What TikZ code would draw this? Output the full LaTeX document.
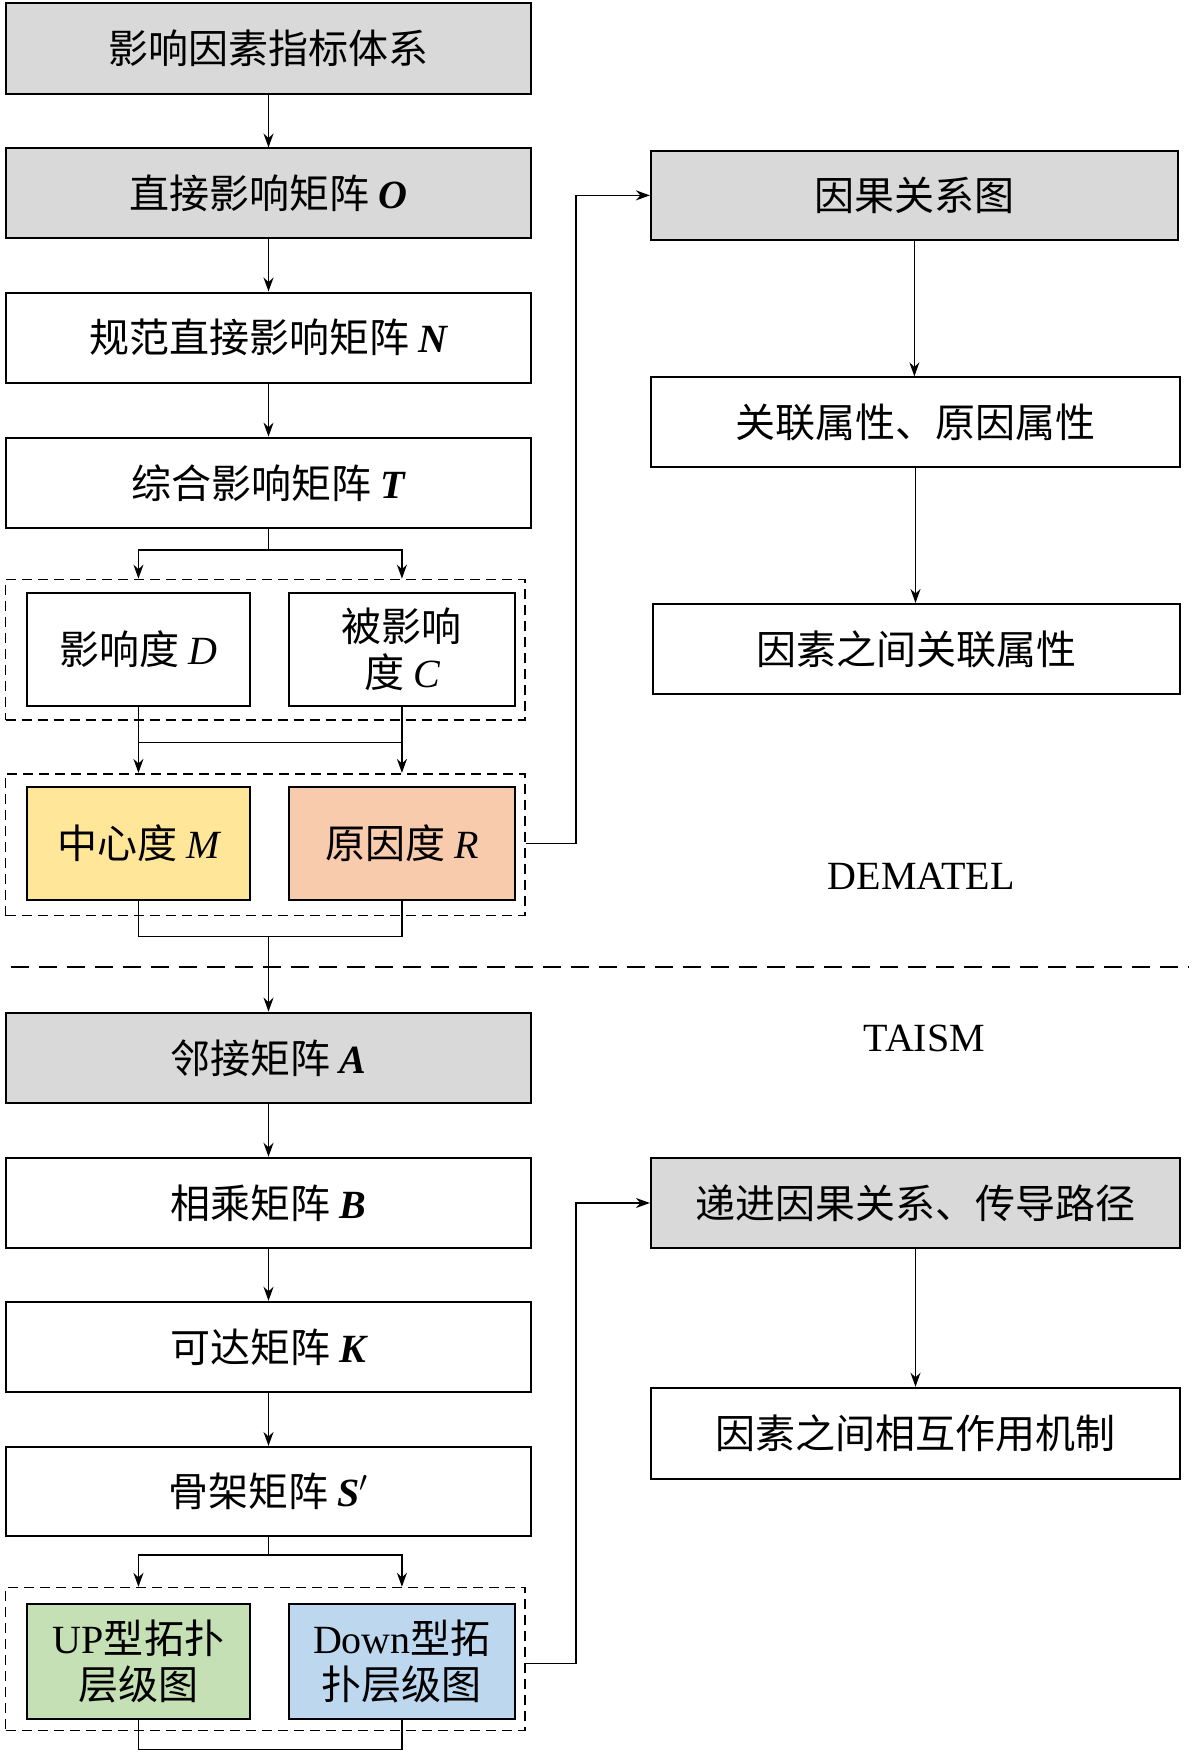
\documentclass[tikz,border=0pt]{standalone}
\usepackage{fontspec}
\setmainfont{Noto Sans CJK SC}
\newfontfamily\lat{Liberation Serif}
\usetikzlibrary{fit,arrows.meta,calc}
\definecolor{gbox}{HTML}{D9D9D9}
\definecolor{ybox}{HTML}{FFE699}
\definecolor{obox}{HTML}{F8CBAD}
\definecolor{grbox}{HTML}{C5E0B4}
\definecolor{bbox}{HTML}{BDD7EE}
\newcommand{\V}[1]{{\lat\itshape\bfseries #1}}
\newcommand{\Vi}[1]{{\lat\itshape #1}}
\newcommand{\bx}[5]{\path (#2) coordinate (#1a) (#3) coordinate (#1b);
 \node[#4, fit=(#1a)(#1b), inner sep=0pt] (#1) {};
 \node[font=\fontsize{20}{23}\selectfont, align=center] at (#1) {#5};}
\begin{document}
\begin{tikzpicture}[x=0.558pt,y=-0.558pt,
  box/.style={draw, line width=1pt},
  gray/.style={box, fill=gbox},
  grp/.style={draw, dash pattern=on 5pt off 3pt, line width=0.8pt},
  arr/.style={-{Stealth[length=7pt,width=5pt]}, line width=0.8pt},
  ln/.style={line width=0.8pt}]
\useasboundingbox (0,0) rectangle (1075,1580);
\bx{f}{5,3}{476,84}{gray}{影响因素指标体系}
\bx{o}{5,133}{476,213}{gray}{直接影响矩阵 \V{O}}
\bx{n}{5,262}{476,343}{box}{规范直接影响矩阵 \V{N}}
\bx{t}{5,392}{476,473}{box}{综合影响矩阵 \V{T}}
\bx{ga}{5,519}{470,645}{grp}{}
\bx{d}{24,531}{224,632}{box}{影响度 \Vi{D}}
\bx{c}{259,531}{461,632}{box}{被影响\\度 \Vi{C}}
\bx{gb}{5,693}{470,820}{grp}{}
\bx{m}{24,705}{224,806}{box,fill=ybox}{中心度 \Vi{M}}
\bx{r}{259,705}{461,806}{box,fill=obox}{原因度 \Vi{R}}
\bx{y}{583,135}{1055,215}{gray}{因果关系图}
\bx{y2}{583,338}{1057,418}{box}{关联属性、原因属性}
\bx{y3}{585,541}{1057,622}{box}{因素之间关联属性}
\node[font=\lat\fontsize{20}{23}\selectfont] (dm) at (825,785) {DEMATEL};
\node[font=\lat\fontsize{20}{23}\selectfont] (ta) at (828,930) {TAISM};
\draw[dash pattern=on 9pt off 5pt, line width=1pt] (10,866) coordinate (s1) -- (1065,866) coordinate (s2);
\bx{a}{5,907}{476,988}{gray}{邻接矩阵 \V{A}}
\bx{b}{5,1037}{476,1118}{box}{相乘矩阵 \V{B}}
\bx{k}{5,1166}{476,1247}{box}{可达矩阵 \V{K}}
\bx{s}{5,1296}{476,1376}{box}{骨架矩阵 \V{S}$'$}
\bx{gc}{5,1422}{470,1550}{grp}{}
\bx{u}{24,1437}{224,1540}{box,fill=grbox}{{\lat UP}型拓扑\\层级图}
\bx{w}{259,1437}{461,1540}{box,fill=bbox}{{\lat Down}型拓\\扑层级图}
\bx{z}{583,1037}{1057,1118}{gray}{递进因果关系、传导路径}
\bx{z2}{583,1243}{1057,1325}{box}{因素之间相互作用机制}
% arrows
\draw[arr] (f.south) -- (o.north);
\draw[arr] (o.south) -- (n.north);
\draw[arr] (n.south) -- (t.north);
\draw[ln] (t.south) -- ++(0,19) coordinate (j1);
\draw[arr] (j1) -| (d.north |- ga.north);
\draw[arr] (j1) -| (c.north |- ga.north);
\draw[arr] (d.south) -- (d.south |- gb.north);
\draw[arr] (c.south) -- (c.south |- gb.north);
\draw[ln] (d.south |- 0,665) -- (c.south |- 0,665);
\draw[ln] (m.south) -- ++(0,32) coordinate (j3) -| (r.south);
\draw[arr] (a.north |- j3) -- (a.north);
\draw[arr] (gb.east |- r) -- ++(45,0) |- (y.west);
\draw[arr] (y.south) -- (y2.north -| y.south);
\draw[arr] (y2.south) -- (y3.north -| y2.south);
\draw[arr] (a.south) -- (b.north);
\draw[arr] (b.south) -- (k.north);
\draw[arr] (k.south) -- (s.north);
\draw[ln] (s.south) -- ++(0,16) coordinate (j2);
\draw[arr] (j2) -| (u.north |- gc.north);
\draw[arr] (j2) -| (w.north |- gc.north);
\draw[ln] (u.south) -- ++(0,26) -| (w.south);
\draw[arr] (gc.east |- 0,1490) -- ++(45,0) |- (z.west);
\draw[arr] (z.south) -- (z2.north -| z.south);
\end{tikzpicture}
\end{document}
